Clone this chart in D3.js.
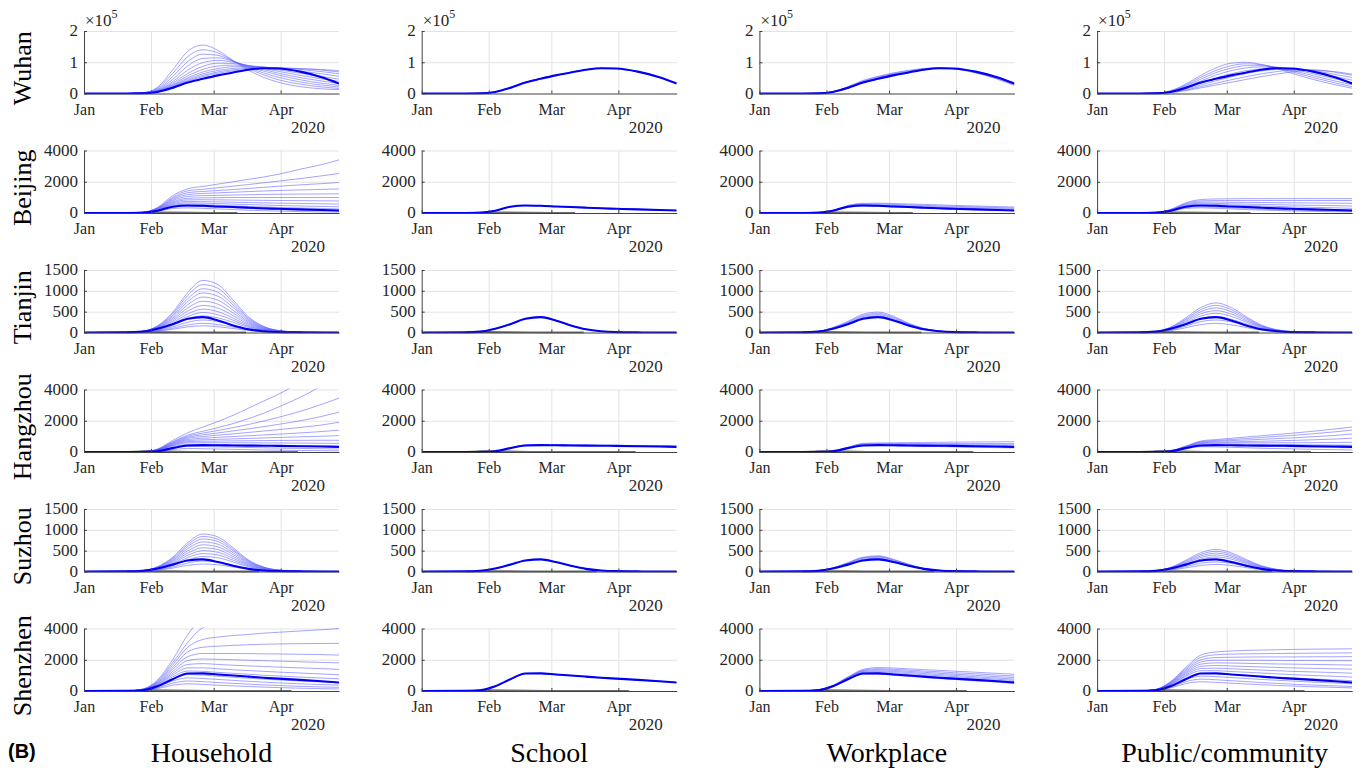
<!DOCTYPE html>
<html lang="en">
<head>
<meta charset="UTF-8" />
<title>Setting sensitivity by city</title>
<script src="https://d3js.org/d3.v7.min.js"></script>
<style>
  body { margin: 0; background: #fff; }
  svg { display: block; font-family: "Liberation Serif", "Times New Roman", serif; }
  .axis path, .axis line { stroke: #404040; }
  .grid line { stroke: #e3e3e3; stroke-width: 1; }
  .grid path { display: none; }
  .thin { fill: none; stroke: #5c5cff; stroke-width: 0.8; stroke-opacity: 0.7; }
  .thick { fill: none; stroke: #0000f2; stroke-width: 2.1; }
  .observed { fill: none; stroke: #6e6e6e; stroke-width: 2; }
</style>
</head>
<body>
<svg id="chart" width="1362" height="772"></svg>
<script>
// sample days after 1 Jan 2020
const days = [0, 20, 27, 34, 41, 48, 55, 62, 69, 76, 83, 90, 100, 110, 118];
const cities = ["Wuhan", "Beijing", "Tianjin", "Hangzhou", "Suzhou", "Shenzhen"];
const settings = ["Household", "School", "Workplace", "Public/community"];
const unit = [1000, 1, 1, 1, 1, 1]; // Wuhan values are in thousands
const yMax = [200000, 4000, 1500, 4000, 1500, 4000];
const yTicks = [[0, 100000, 200000], [0, 2000, 4000], [0, 500, 1000, 1500], [0, 2000, 4000], [0, 500, 1000, 1500], [0, 2000, 4000]];
const yTickText = [["0", "1", "2"], ["0", "2000", "4000"], ["0", "500", "1000", "1500"], ["0", "2000", "4000"], ["0", "500", "1000", "1500"], ["0", "2000", "4000"]];
const monthTicks = ["2020-01-01", "2020-02-01", "2020-03-01", "2020-04-01"];
const monthLabels = ["Jan", "Feb", "Mar", "Apr"];

// reported daily cases (grey, near zero on these scales)
const observedDays = [
  [],
  [20, 30, 40, 50, 60, 71],
  [20, 30, 40, 50, 60, 75],
  [20, 30, 40, 50, 60, 70, 80, 90, 99],
  [20, 30, 40, 50, 60, 70, 81],
  [20, 30, 40, 50, 60, 70, 80, 90, 96]
];
const observedCases = [
  [],
  [5, 30, 25, 10, 3, 1],
  [2, 10, 8, 3, 1, 0],
  [4, 40, 30, 8, 2, 1, 1, 0, 0],
  [1, 8, 6, 2, 1, 0, 0],
  [6, 50, 40, 12, 3, 1, 1, 0, 0]
];

// baseline (thick) curve per city
const wuhanBase = [0,0,0.5,5,18,35,47,58,67,76,81,80,70,52,32];
const beijingBase = [0,0,15,140,400,480,460,420,380,340,300,270,230,190,160];
const tianjinBase = [0,2,20,90,200,330,370,290,170,78,30,9,2,0,0];
const hangzhouBase = [0,0,5,50,250,420,440,430,420,410,400,390,370,350,330];
const suzhouBase = [0,2,15,70,165,265,290,228,138,63,24,8,2,0,0];
const shenzhenBase = [0,5,40,300,750,1120,1130,1060,990,920,850,790,710,620,540];

// sensitivity (thin) curves
const wuhanHousehold = [
  [0,0,2,20,75,135,155,138,105,75,52,36,22,15,12],
  [0,0,2,17,64,118,140,130,105,80,60,44,30,21,16],
  [0,0,2,14,54,102,126,122,104,84,66,52,37,27,21],
  [0,0,1.5,12,45,88,112,114,103,87,72,59,44,33,26],
  [0,0,1.5,10,38,75,99,106,100,89,77,65,51,40,32],
  [0,0,1,9,33,64,87,97,96,90,81,71,58,47,39],
  [0,0,1,8,29,56,77,88,91,89,84,76,65,55,46],
  [0,0,1,7,26,50,69,80,86,87,85,80,72,63,55],
  [0,0,1,7,24,46,63,74,80,83,84,82,77,70,63],
  [0,0,1,6,22,42,58,69,76,80,82,82,79,75,69],
  [0,0,1,6,21,39,54,65,72,77,80,81,80,77,73]
];
const wuhanSchool = [
  [0,0,0.5,5,18,36,48,59,68,77,81,80,69,51,31],
  [0,0,0.5,5,19,36,48,58,67,76,81,80,70,52,32]
];
const wuhanWorkplace = [
  [0,0,0.5,6,22,42,55,66,74,80,82,79,66,46,26],
  [0,0,0.5,6,21,40,53,64,72,79,82,79,67,48,28],
  [0,0,0.5,5,20,38,51,62,70,78,81,80,68,50,30],
  [0,0,0.5,5,19,37,49,60,69,77,81,80,69,51,31]
];
const wuhanPublic = [
  [0,0,1,9,30,58,82,97,100,93,80,65,45,28,17],
  [0,0,1,8,27,52,74,89,95,92,83,70,51,34,22],
  [0,0,1,7,24,46,67,81,89,89,84,74,57,40,28],
  [0,0,1,6,21,40,59,73,82,85,84,78,63,47,35],
  [0,0,1,5,17,33,50,63,73,79,81,80,69,54,43],
  [0,0,0.5,4,14,27,41,53,64,72,77,79,74,61,51],
  [0,0,0.5,3,11,22,33,44,54,63,70,75,76,68,58],
  [0,0,0.5,3,9,18,27,36,45,54,62,69,74,70,62]
];

const beijingHousehold = [
  [0,0,40,350,1100,1550,1700,1850,2000,2150,2300,2480,2800,3100,3400],
  [0,0,35,320,1000,1420,1520,1620,1720,1820,1930,2040,2200,2380,2530],
  [0,0,32,300,930,1300,1380,1440,1500,1570,1640,1710,1800,1880,1950],
  [0,0,30,280,860,1180,1250,1290,1330,1370,1410,1440,1480,1510,1540],
  [0,0,28,260,790,1060,1110,1130,1150,1170,1190,1200,1210,1220,1230],
  [0,0,26,240,720,940,970,980,990,990,990,990,990,990,990],
  [0,0,24,220,660,840,850,840,830,820,810,800,790,780,770],
  [0,0,22,200,600,740,730,710,690,670,650,630,610,590,570],
  [0,0,20,180,540,650,630,600,570,540,510,480,450,420,400],
  [0,0,18,160,480,570,540,500,460,420,390,360,320,290,260],
  [0,0,15,130,380,440,410,370,330,290,250,220,180,150,120],
  [0,0,12,100,290,330,300,260,220,180,150,120,90,70,60]
];
const beijingSchool = [
  [0,0,15,140,395,482,462,421,381,341,301,270,231,191,161],
  [0,0,15,138,400,478,458,418,378,338,300,268,229,189,159]
];
const beijingWorkplace = [
  [0,0,18,170,490,620,630,610,580,550,520,490,450,410,380],
  [0,0,17,160,460,580,580,550,520,490,460,430,390,350,320],
  [0,0,16,150,430,540,530,500,460,430,400,370,330,290,260],
  [0,0,15,140,400,500,480,450,410,370,340,310,270,230,200],
  [0,0,14,130,370,450,430,390,350,310,280,250,210,170,140]
];
const beijingPublic = [
  [0,0,25,230,650,860,900,910,920,920,920,920,920,920,920],
  [0,0,23,210,600,780,800,800,800,800,800,800,800,800,800],
  [0,0,21,190,550,700,700,690,680,670,660,650,640,630,620],
  [0,0,19,175,500,630,610,590,570,550,530,510,490,470,450],
  [0,0,17,160,460,560,540,510,480,450,420,390,360,330,300],
  [0,0,15,140,410,480,450,410,370,330,300,270,230,200,180],
  [0,0,13,120,350,400,370,330,290,250,220,190,160,130,110],
  [0,0,11,100,290,330,300,260,220,190,160,130,100,80,70]
];

const tianjinHousehold = [
  [0,3,30,160,480,960,1250,1150,780,380,150,50,10,2,0],
  [0,3,28,150,445,890,1150,1060,720,350,140,46,9,2,0],
  [0,3,26,140,410,815,1050,965,660,320,128,42,8,2,0],
  [0,3,24,130,375,740,950,870,600,290,115,38,7,1,0],
  [0,2,22,120,340,665,850,775,535,260,102,34,6,1,0],
  [0,2,20,110,305,590,750,680,470,230,90,30,5,1,0],
  [0,2,18,100,270,515,650,585,405,200,78,26,4,1,0],
  [0,2,16,88,235,445,560,500,345,170,66,22,4,1,0],
  [0,2,15,78,205,385,480,425,295,145,56,19,3,0,0],
  [0,2,13,66,170,320,400,350,245,120,46,16,3,0,0],
  [0,1,11,52,135,245,300,260,180,90,34,12,2,0,0],
  [0,1,9,40,102,180,220,190,130,65,25,9,2,0,0],
  [0,1,7,30,78,135,160,138,95,48,18,6,1,0,0]
];
const tianjinSchool = [
  [0,2,20,92,202,332,372,292,171,79,30,9,2,0,0],
  [0,2,19,89,198,328,368,289,169,77,29,9,2,0,0]
];
const tianjinWorkplace = [
  [0,3,26,120,270,440,490,390,225,100,38,12,3,0,0],
  [0,3,24,110,250,410,460,365,210,95,36,11,3,0,0],
  [0,2,23,105,235,385,430,340,198,90,34,10,2,0,0],
  [0,2,22,100,220,360,400,315,185,84,31,9,2,0,0],
  [0,2,21,95,210,345,380,300,175,80,30,9,2,0,0]
];
const tianjinPublic = [
  [0,3,25,130,350,600,710,600,380,180,70,22,5,1,0],
  [0,3,24,120,320,550,650,550,350,165,64,20,4,1,0],
  [0,3,22,110,295,500,590,500,320,150,58,18,4,1,0],
  [0,2,21,100,265,450,525,445,285,135,52,16,3,0,0],
  [0,2,19,90,235,395,460,390,250,118,46,14,3,0,0],
  [0,2,16,75,195,330,380,320,205,98,38,12,2,0,0],
  [0,2,13,60,155,260,300,255,165,78,30,10,2,0,0],
  [0,1,10,45,115,190,220,185,120,57,22,7,1,0,0]
];

const hangzhouHousehold = [
  [0,0,20,190,740,1230,1600,1950,2350,2800,3250,3700,4500,5700,6800],
  [0,0,18,170,660,1080,1330,1560,1820,2130,2480,2880,3500,4250,5000],
  [0,0,17,160,620,1010,1210,1380,1560,1760,1980,2220,2600,3050,3450],
  [0,0,16,150,580,940,1100,1220,1350,1480,1620,1770,2000,2280,2550],
  [0,0,15,140,540,870,990,1080,1160,1250,1340,1430,1570,1730,1900],
  [0,0,14,130,500,800,880,940,990,1040,1090,1140,1220,1310,1400],
  [0,0,13,120,460,730,780,810,840,870,900,930,970,1010,1050],
  [0,0,12,110,420,660,690,700,710,720,730,740,745,750,750],
  [0,0,11,100,380,590,600,600,590,590,580,580,570,560,550],
  [0,0,9,85,320,490,490,480,460,450,430,420,400,380,360],
  [0,0,7,65,240,360,350,330,310,290,270,250,230,210,190],
  [0,0,5,45,160,230,210,190,170,150,130,115,100,85,75]
];
const hangzhouSchool = [
  [0,0,5,52,262,450,470,460,450,440,430,420,400,385,370],
  [0,0,5,50,258,446,466,456,446,436,426,416,397,382,366]
];
const hangzhouWorkplace = [
  [0,0,6,60,310,550,580,590,600,610,620,630,640,650,660],
  [0,0,6,57,295,520,540,540,540,540,540,540,540,540,540],
  [0,0,5,54,280,490,500,495,490,485,480,475,470,465,460],
  [0,0,5,50,260,455,460,450,440,425,410,400,385,370,355],
  [0,0,4,46,240,420,420,405,390,370,350,330,300,280,260]
];
const hangzhouPublic = [
  [0,0,8,80,380,700,800,880,960,1040,1120,1200,1330,1470,1600],
  [0,0,7,75,360,660,740,800,860,930,1000,1060,1170,1290,1400],
  [0,0,7,70,340,620,690,730,770,810,860,900,980,1060,1150],
  [0,0,6,65,320,580,630,650,670,690,710,740,780,830,880],
  [0,0,6,60,300,540,580,590,590,590,590,590,600,610,620],
  [0,0,5,55,280,500,520,510,500,490,480,470,460,450,440],
  [0,0,5,50,250,440,440,420,400,380,360,340,310,290,270],
  [0,0,4,40,200,340,330,300,270,240,220,200,170,150,130]
];

const suzhouHousehold = [
  [0,2,22,115,340,690,900,830,570,280,110,36,7,1,0],
  [0,2,20,108,318,645,840,775,532,262,103,34,7,1,0],
  [0,2,19,100,295,600,780,720,495,243,96,32,6,1,0],
  [0,2,18,92,270,548,710,655,450,222,87,29,6,1,0],
  [0,2,16,84,245,495,640,590,405,200,78,26,5,1,0],
  [0,2,15,76,220,442,570,525,360,178,70,23,5,1,0],
  [0,2,13,67,193,388,500,460,316,156,61,20,4,1,0],
  [0,1,11,58,166,334,430,396,272,134,53,17,3,0,0],
  [0,1,10,49,140,280,360,330,228,112,44,14,3,0,0],
  [0,1,8,38,108,205,250,225,150,72,28,9,2,0,0],
  [0,1,6,29,80,150,180,160,108,52,20,7,1,0,0]
];
const suzhouSchool = [
  [0,2,15,71,166,267,292,229,138,63,24,8,2,0,0],
  [0,2,15,69,163,263,288,226,136,62,23,8,2,0,0]
];
const suzhouWorkplace = [
  [0,2,19,90,215,345,378,293,176,78,29,9,3,0,0],
  [0,2,18,86,205,330,360,280,168,75,27,9,2,0,0],
  [0,2,17,82,195,315,345,268,160,71,26,8,2,0,0],
  [0,2,16,77,183,295,322,250,150,67,24,8,2,0,0],
  [0,2,15,73,172,278,305,236,142,63,23,7,2,0,0]
];
const suzhouPublic = [
  [0,2,19,100,270,450,530,450,290,140,55,18,4,1,0],
  [0,2,18,92,248,412,485,412,265,128,50,16,4,1,0],
  [0,2,16,84,226,375,440,375,240,116,45,15,3,0,0],
  [0,2,15,76,204,338,396,338,216,104,41,13,3,0,0],
  [0,2,13,67,180,298,350,298,190,92,36,12,3,0,0],
  [0,1,11,56,150,248,290,248,158,77,30,10,2,0,0],
  [0,1,9,45,120,198,230,198,126,61,24,8,2,0,0],
  [0,1,7,33,88,146,170,146,93,45,18,6,1,0,0]
];

const shenzhenHousehold = [
  [0,8,120,700,2000,3600,4800,5500,6000,6300,6500,6700,6900,7000,7100],
  [0,7,110,640,1800,3100,4050,4300,4500,4600,4700,4750,4800,4850,4900],
  [0,7,100,590,1650,2800,3300,3450,3550,3620,3700,3760,3840,3920,4000],
  [0,6,92,540,1500,2500,2800,2870,2920,2960,2990,3010,3030,3040,3050],
  [0,6,85,500,1380,2200,2400,2400,2400,2390,2380,2370,2350,2330,2300],
  [0,5,78,460,1250,1950,2050,2030,2000,1970,1940,1910,1870,1830,1800],
  [0,5,72,420,1130,1700,1750,1700,1650,1610,1570,1530,1480,1430,1380],
  [0,5,66,380,1020,1480,1480,1420,1360,1310,1260,1210,1150,1090,1040],
  [0,4,60,340,900,1280,1260,1190,1130,1070,1010,960,890,830,780],
  [0,4,52,300,780,1050,1020,950,880,820,760,710,640,580,530],
  [0,3,44,250,640,840,800,740,680,620,570,520,460,410,370],
  [0,3,36,200,500,640,600,540,490,440,390,350,300,260,230],
  [0,2,28,150,370,460,420,370,330,290,250,220,180,150,130]
];
const shenzhenSchool = [
  [0,5,41,305,755,1125,1135,1064,993,922,852,791,711,621,541],
  [0,5,39,296,745,1115,1125,1056,987,918,848,789,709,619,539]
];
const shenzhenWorkplace = [
  [0,6,70,360,900,1380,1500,1470,1420,1370,1320,1270,1200,1130,1070],
  [0,6,68,350,880,1330,1430,1390,1340,1280,1230,1170,1100,1020,960],
  [0,6,66,340,860,1290,1370,1320,1260,1200,1140,1080,1000,920,860],
  [0,5,64,330,840,1250,1300,1250,1190,1120,1060,1000,910,830,760],
  [0,5,62,320,810,1200,1240,1180,1110,1040,980,920,830,750,680],
  [0,5,60,310,780,1160,1180,1110,1040,970,900,840,750,670,600],
  [0,4,50,290,720,1080,1080,1010,940,870,800,740,650,570,480]
];
const shenzhenPublic = [
  [0,8,100,600,1500,2300,2500,2560,2600,2620,2640,2660,2680,2690,2700],
  [0,7,95,570,1420,2150,2320,2360,2380,2390,2400,2410,2420,2430,2440],
  [0,7,90,540,1340,2000,2140,2160,2170,2180,2180,2180,2190,2190,2200],
  [0,7,85,510,1260,1860,1970,1970,1970,1960,1960,1950,1950,1940,1940],
  [0,6,80,480,1180,1720,1800,1790,1770,1750,1730,1720,1700,1680,1660],
  [0,6,75,450,1100,1580,1630,1600,1570,1540,1510,1480,1450,1420,1400],
  [0,6,70,420,1020,1440,1460,1420,1380,1340,1300,1260,1220,1180,1140],
  [0,5,65,390,940,1300,1300,1250,1200,1150,1100,1050,990,940,890],
  [0,5,58,350,840,1140,1120,1060,1000,940,890,840,770,710,660],
  [0,4,50,300,720,950,920,860,800,740,690,640,570,510,460],
  [0,3,42,250,590,760,720,660,600,540,490,440,380,330,290],
  [0,3,34,200,470,590,550,500,450,400,360,320,270,230,200]
];

const bases = [wuhanBase, beijingBase, tianjinBase, hangzhouBase, suzhouBase, shenzhenBase];
const thinSets = [
  [wuhanHousehold, wuhanSchool, wuhanWorkplace, wuhanPublic],
  [beijingHousehold, beijingSchool, beijingWorkplace, beijingPublic],
  [tianjinHousehold, tianjinSchool, tianjinWorkplace, tianjinPublic],
  [hangzhouHousehold, hangzhouSchool, hangzhouWorkplace, hangzhouPublic],
  [suzhouHousehold, suzhouSchool, suzhouWorkplace, suzhouPublic],
  [shenzhenHousehold, shenzhenSchool, shenzhenWorkplace, shenzhenPublic]
];

const svg = d3.select("#chart");
const defs = svg.append("defs");
const serif = "Liberation Serif, Times New Roman, serif";

const start = new Date(2020, 0, 1);
const end = new Date(2020, 3, 28);
const dates = days.map((d) => d3.timeDay.offset(start, d));
const monthDates = monthTicks.map((s) => d3.timeParse("%Y-%m-%d")(s));

const plotW = 255;
const plotH = 62.5;
const colX = (j) => 84 + j * 337.7;
const rowTop = (i) => 31 + i * 119.5;

cities.forEach((city, i) => {
  const top = rowTop(i);
  const bottom = top + plotH;
  const y = d3.scaleLinear().domain([0, yMax[i]]).range([bottom, top]);

  settings.forEach((setting, j) => {
    const x0 = colX(j);
    const x = d3.scaleTime().domain([start, end]).range([x0, x0 + plotW]);
    const g = svg.append("g");

    // grid
    g.append("g")
      .attr("class", "grid")
      .attr("transform", `translate(0,${bottom})`)
      .call(d3.axisBottom(x).tickValues(monthDates.slice(1)).tickSize(-plotH).tickFormat(""));
    g.append("g")
      .attr("class", "grid")
      .attr("transform", `translate(${x0},0)`)
      .call(d3.axisLeft(y).tickValues(yTicks[i].slice(1)).tickSize(-plotW).tickFormat(""));

    const clipId = `clip-${i}-${j}`;
    defs.append("clipPath").attr("id", clipId)
      .append("rect")
      .attr("x", x0).attr("y", top - 1)
      .attr("width", plotW).attr("height", plotH + 2);

    const line = d3.line()
      .x((v, k) => x(dates[k]))
      .y((v) => y(v * unit[i]))
      .curve(d3.curveMonotoneX);

    const lines = g.append("g").attr("clip-path", `url(#${clipId})`);

    if (observedDays[i].length) {
      const obsLine = d3.line()
        .x((v, k) => x(d3.timeDay.offset(start, observedDays[i][k])))
        .y((v) => y(v));
      lines.append("path")
        .attr("class", "observed")
        .attr("d", obsLine(observedCases[i]));
    }

    lines.selectAll("path.thin")
      .data(thinSets[i][j])
      .enter()
      .append("path")
      .attr("class", "thin")
      .attr("d", line);
    lines.append("path")
      .attr("class", "thick")
      .attr("d", line(bases[i]));

    // axes
    g.append("g")
      .attr("class", "axis")
      .attr("transform", `translate(0,${bottom})`)
      .call(d3.axisBottom(x).tickValues(monthDates)
        .tickFormat((d, k) => monthLabels[k])
        .tickSizeInner(-3).tickSizeOuter(0).tickPadding(10))
      .attr("font-family", serif)
      .attr("font-size", 16)
      .selectAll("text").attr("fill", "#262626");
    g.append("g")
      .attr("class", "axis")
      .attr("transform", `translate(${x0},0)`)
      .call(d3.axisLeft(y).tickValues(yTicks[i])
        .tickFormat((d, k) => yTickText[i][k])
        .tickSizeInner(-3).tickSizeOuter(0).tickPadding(6))
      .attr("font-family", serif)
      .attr("font-size", 17)
      .selectAll("text").attr("fill", "#262626").attr("dy", "0.28em");
    g.selectAll(".axis .domain").attr("stroke", "#404040");

    g.append("text")
      .attr("x", x0 + plotW - 14)
      .attr("y", bottom + 39)
      .attr("text-anchor", "end")
      .attr("font-family", serif)
      .attr("font-size", 17)
      .attr("fill", "#262626")
      .text("2020");

    if (i === 0) {
      const t = g.append("text")
        .attr("x", x0 + 1)
        .attr("y", top - 5)
        .attr("font-family", serif)
        .attr("font-size", 17)
        .attr("fill", "#262626");
      t.append("tspan").text("×10");
      t.append("tspan").attr("font-size", 12).attr("dy", -8).text("5");
    }
  });

  svg.append("text")
    .attr("transform", `translate(31,${top + plotH / 2 + 6}) rotate(-90)`)
    .attr("text-anchor", "middle")
    .attr("font-family", serif)
    .attr("font-size", 26)
    .attr("fill", "#000")
    .text(city);
});

settings.forEach((s, j) => {
  svg.append("text")
    .attr("x", colX(j) + plotW / 2)
    .attr("y", 762)
    .attr("text-anchor", "middle")
    .attr("font-family", serif)
    .attr("font-size", 28)
    .attr("fill", "#000")
    .text(s);
});

svg.append("text")
  .attr("x", 8)
  .attr("y", 758)
  .attr("font-family", "Liberation Sans, Arial, sans-serif")
  .attr("font-weight", "bold")
  .attr("font-size", 20)
  .attr("fill", "#000")
  .text("(B)");
</script>
</body>
</html>
